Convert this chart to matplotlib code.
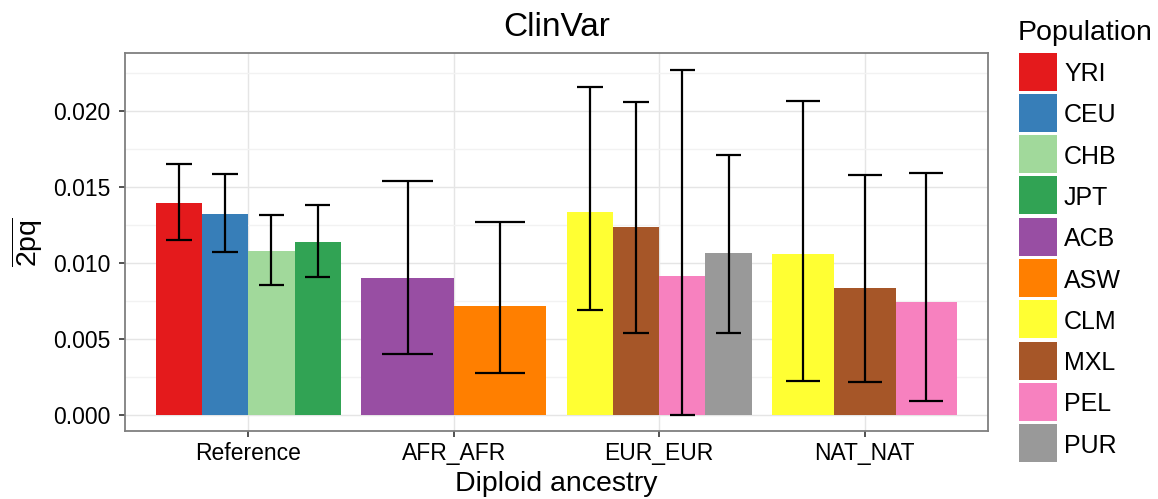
import matplotlib
matplotlib.use("Agg")
import matplotlib.pyplot as plt
from matplotlib.patches import Rectangle
from matplotlib.ticker import MultipleLocator

plt.rcParams['font.family'] = ['Liberation Sans', 'DejaVu Sans']
plt.rcParams['mathtext.fontset'] = 'custom'
plt.rcParams['mathtext.rm'] = 'Liberation Sans'
plt.rcParams['mathtext.it'] = 'Liberation Sans'

# mean 2pq per population within each diploid ancestry, with error bar limits
groups = ["Reference", "AFR_AFR", "EUR_EUR", "NAT_NAT"]
group_pops = [
    ["YRI", "CEU", "CHB", "JPT"],
    ["ACB", "ASW"],
    ["CLM", "MXL", "PEL", "PUR"],
    ["CLM", "MXL", "PEL"],
]
group_means = [
    [0.01398, 0.01325, 0.01076, 0.01136],
    [0.00898, 0.00717],
    [0.01334, 0.01235, 0.00911, 0.01063],
    [0.01056, 0.00838, 0.00745],
]
group_upper = [
    [0.01649, 0.01583, 0.01316, 0.01382],
    [0.01537, 0.01268],
    [0.02163, 0.02062, 0.02273, 0.01711],
    [0.02068, 0.01579, 0.01590],
]
group_lower = [
    [0.01149, 0.01069, 0.00856, 0.00906],
    [0.00401, 0.00276],
    [0.00692, 0.00536, 0.00000, 0.00540],
    [0.00221, 0.00216, 0.00089],
]

populations = ["YRI", "CEU", "CHB", "JPT", "ACB", "ASW", "CLM", "MXL", "PEL", "PUR"]
pop_colors = ["#E41A1C", "#377EB8", "#A1D99B", "#31A354", "#984EA3",
              "#FF7F00", "#FFFF33", "#A65628", "#F781BF", "#999999"]
color_of = dict(zip(populations, pop_colors))

W, H = 1158, 499
fig = plt.figure(figsize=(W / 100, H / 100), dpi=100)
ax = fig.add_axes([125 / W, 1 - 431 / H, 863 / W, 378 / H])

total_w = 0.9
for gi, (pops, means, hi, lo) in enumerate(zip(group_pops, group_means, group_upper, group_lower)):
    n = len(pops)
    w = total_w / n
    for i, pop in enumerate(pops):
        x = gi + 1 + (i - (n - 1) / 2) * w
        ax.bar(x, means[i], width=w, color=color_of[pop], linewidth=0, zorder=2)
        cap = 0.275 * w
        ax.vlines(x, lo[i], hi[i], color="black", linewidth=1.6, zorder=3)
        ax.hlines([lo[i], hi[i]], x - cap, x + cap, color="black", linewidth=1.6, zorder=3)

ax.set_xlim(0.4, 4.6)
ax.set_ylim(-0.00108, 0.02384)
ax.set_xticks(range(1, len(groups) + 1))
ax.set_xticklabels(groups)
ax.set_yticks([0.0, 0.005, 0.010, 0.015, 0.020])
ax.set_yticklabels(["0.000", "0.005", "0.010", "0.015", "0.020"])
ax.yaxis.set_minor_locator(MultipleLocator(0.0025))
ax.tick_params(axis="y", which="minor", length=0)
ax.tick_params(axis="both", which="major", labelsize=16.5, length=4.3, width=1.2,
               color="#333333", labelcolor="black")
ax.tick_params(axis="x", pad=3.5)
ax.tick_params(axis="y", pad=6)

ax.grid(True, which="major", color="#e5e5e5", linewidth=1, zorder=0)
ax.grid(True, which="minor", axis="y", color="#f2f2f2", linewidth=1, zorder=0)
ax.set_axisbelow(True)
for s in ax.spines.values():
    s.set_color("#7f7f7f")
    s.set_linewidth(1.3)

ax.set_title("ClinVar", fontsize=24, pad=12.2)
ax.set_xlabel("Diploid ancestry", fontsize=20.5)
ax.xaxis.label.set_verticalalignment("baseline")
ax.xaxis.set_label_coords(0.5, (431 - 491) / 378)
ax.set_ylabel(r"$\overline{\mathrm{2pq}}$", fontsize=20.5, labelpad=6)

# legend drawn as its own panel of colour keys
lax = fig.add_axes([0, 0, 1, 1], zorder=-1)
lax.set_xlim(0, W)
lax.set_ylim(H, 0)
lax.axis("off")
lax.text(1018, 40, "Population", fontsize=20.5, va="baseline", ha="left")
for i, (pop, c) in enumerate(zip(populations, pop_colors)):
    top = 52.7 + 41.26 * i
    lax.add_patch(Rectangle((1019, top), 38, 38, facecolor=c, linewidth=0))
    lax.text(1064, top + 19, pop, fontsize=18, va="center_baseline", ha="left")

fig.savefig("out.png", dpi=100)
